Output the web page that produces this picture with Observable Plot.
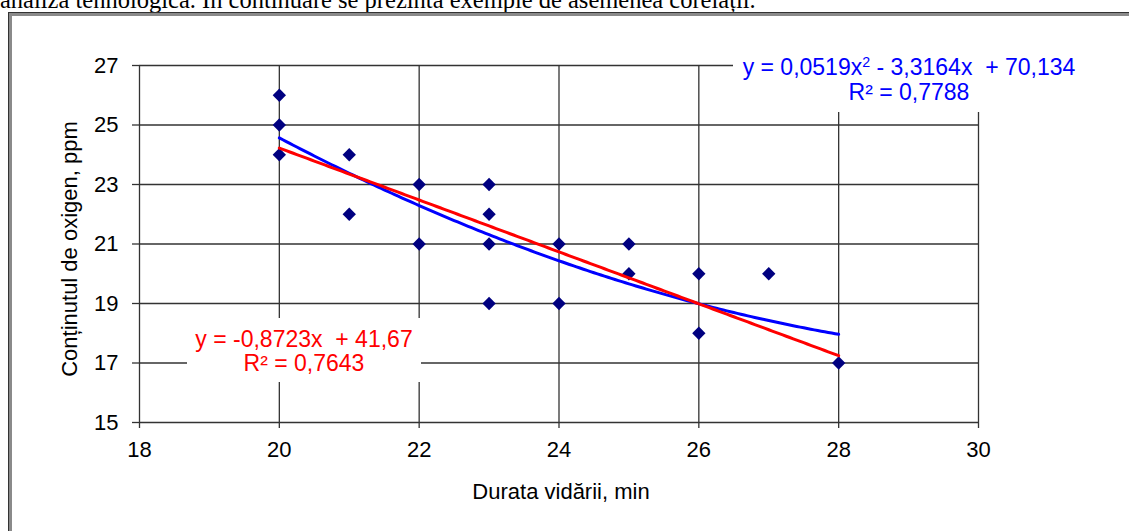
<!DOCTYPE html>
<html>
<head>
<meta charset="utf-8">
<script src="https://cdn.jsdelivr.net/npm/d3@7"></script>
<script src="https://cdn.jsdelivr.net/npm/@observablehq/plot@0.6"></script>
<style>
  html, body { margin: 0; padding: 0; background: #fff; width: 1129px; height: 531px; overflow: hidden; }
  body { position: relative; font-family: "Liberation Sans", Arial, sans-serif; }
  #intro { position: absolute; left: 0; top: -12px; font-family: "Liberation Serif", "Times New Roman", serif;
           font-size: 24.5px; line-height: 24.5px; white-space: nowrap; color: #000; }
  #frame { position: absolute; left: 8px; top: 12px; width: 1200px; height: 600px;
           border-top: 1px solid #333; border-left: 1px solid #333; box-shadow: inset 3px 3px 0 #8a8a8a; }
  #chart { position: absolute; left: 0; top: 0; }
  .eq { position: absolute; background: #fff; text-align: center; font-size: 23px; white-space: nowrap; }
  .eq .sup { font-size: 0.62em; vertical-align: 0.55em; line-height: 0; }
  #eqLin { left: 187px; top: 318px; width: 234px; height: 64px; line-height: 24px; padding-top: 9px; box-sizing: border-box; color: #ff0000; }
  #eqPoly { left: 733px; top: 50px; width: 352px; height: 62px; line-height: 25px; padding-top: 5px; box-sizing: border-box; color: #0000ff; }
</style>
</head>
<body>
<div id="intro">analiza tehnologică. În continuare se prezintă exemple de asemenea corelații.</div>
<div id="frame"></div>
<div id="chart"></div>
<div class="eq" id="eqLin"></div>
<div class="eq" id="eqPoly"></div>
<script>
// Measurements: vacuum duration (min) and oxygen content (ppm)
const durata = [20, 20, 20, 21, 21, 22, 22, 23, 23, 23, 23, 24, 24, 25, 25, 26, 26, 27, 28];
const oxigen = [26, 25, 24, 24, 22, 23, 21, 23, 22, 21, 19, 21, 19, 21, 20, 20, 18, 20, 17];

// Axis ticks
const xTicks = [18, 20, 22, 24, 26, 28, 30];
const yTicks = [15, 17, 19, 21, 23, 25, 27];

// Trend lines: coefficients from the lowest power up, and their R²
const linCoef = [41.67, -0.8723];
const polyCoef = [70.134, -3.3164, 0.0519];
const rSquared = [0.7643, 0.7788];
const trendRange = [20, 28];

const xLabel = "Durata vidării, min";
const yLabel = "Conținutul de oxigen, ppm";

const points = durata.map((d, i) => ({x: d, y: oxigen[i]}));
const evalPoly = (c, x) => c.reduce((s, k, p) => s + k * Math.pow(x, p), 0);
const xs = d3.range(trendRange[0], trendRange[1] + 1e-9, 0.05);
const linCurve = xs.map(x => ({x, y: evalPoly(linCoef, x)}));
const polyCurve = xs.map(x => ({x, y: evalPoly(polyCoef, x)}));

const fmt = v => String(Math.abs(v)).replace(".", ",");
const sign = v => (v < 0 ? "-" : "+");

document.getElementById("eqLin").innerHTML =
  `y = ${linCoef[1] < 0 ? "-" : ""}${fmt(linCoef[1])}x&nbsp; ${sign(linCoef[0])} ${fmt(linCoef[0])}<br>R² = ${fmt(rSquared[0])}`;
document.getElementById("eqPoly").innerHTML =
  `y = ${fmt(polyCoef[2])}x<span class="sup">2</span> ${sign(polyCoef[1])} ${fmt(polyCoef[1])}x&nbsp; ${sign(polyCoef[0])} ${fmt(polyCoef[0])}<br>R² = ${fmt(rSquared[1])}`;

const font = '"Liberation Sans", Arial, sans-serif';
const gridStyle = {stroke: "#333", strokeOpacity: 1, strokeWidth: 1.3};

const chart = Plot.plot({
  width: 1129,
  height: 531,
  marginLeft: 139,
  marginRight: 151,
  marginTop: 65,
  marginBottom: 109,
  style: {fontFamily: font, fontSize: "22px", color: "#000", background: "transparent", overflow: "visible"},
  x: {domain: [18, 30]},
  y: {domain: [15, 27]},
  marks: [
    Plot.gridX(xTicks, gridStyle),
    Plot.gridY(yTicks, gridStyle),
    Plot.axisY({ticks: yTicks, tickSize: 7, tickPadding: 14, label: null, fontSize: 22, stroke: "#333", strokeWidth: 1.3}),
    Plot.axisX({ticks: xTicks, tickSize: 6, tickPadding: 13, label: null, fontSize: 22, stroke: "#333", strokeWidth: 1.3}),
    Plot.dot(points, {x: "x", y: "y", symbol: "diamond2", r: 6, fill: "#000080", stroke: "none"}),
    Plot.line(polyCurve, {x: "x", y: "y", stroke: "#0000ff", strokeWidth: 3}),
    Plot.line(linCurve, {x: "x", y: "y", stroke: "#ff0000", strokeWidth: 3}),
    Plot.text([yLabel], {frameAnchor: "left", textAnchor: "middle", rotate: -90, dx: -70, dy: 5, fontSize: 22}),
    Plot.text([xLabel], {frameAnchor: "bottom", textAnchor: "middle", dx: 2, dy: 76, fontSize: 22})
  ]
});
document.getElementById("chart").appendChild(chart);
</script>
</body>
</html>
